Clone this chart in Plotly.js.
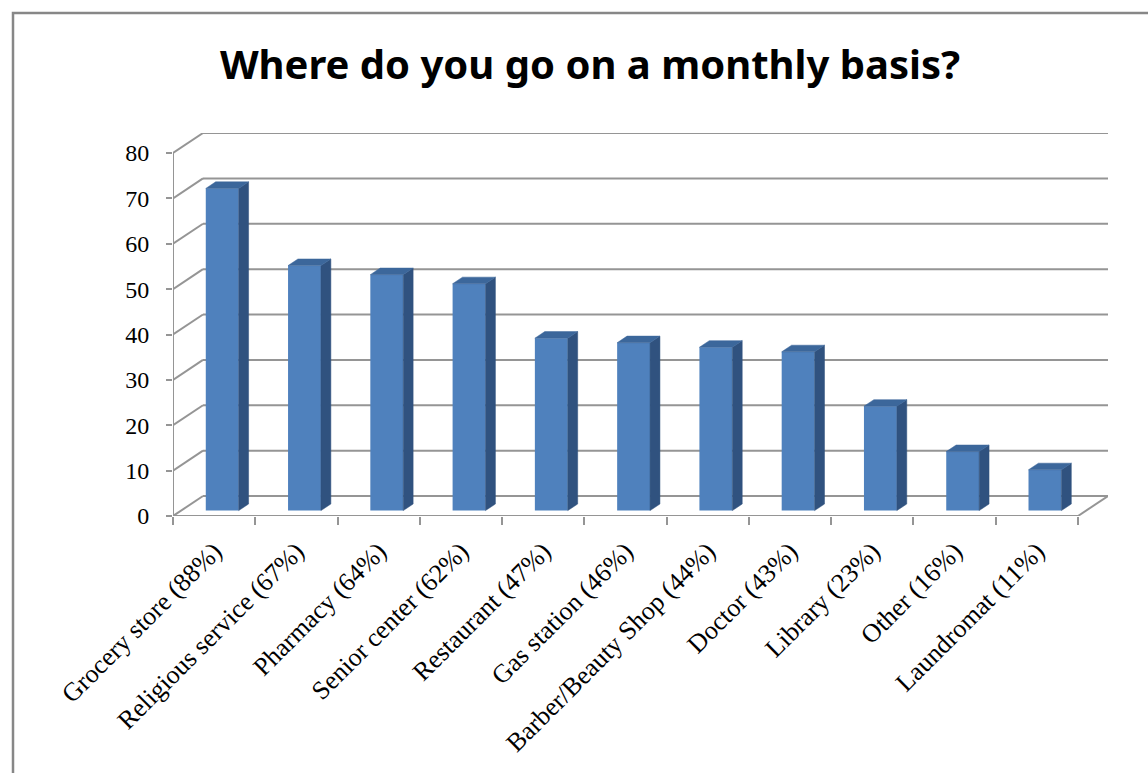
<!DOCTYPE html>
<html>
<head>
<meta charset="utf-8">
<script src="https://cdn.plot.ly/plotly-3.0.1.min.js"></script>
<style>
  html, body { margin: 0; padding: 0; background: #ffffff; }
  #chart { width: 1148px; height: 773px; }
</style>
</head>
<body>
<div id="chart"></div>
<script>
// ---- Data ----
const categories = [
  "Grocery store (88%)", "Religious service (67%)", "Pharmacy (64%)",
  "Senior center (62%)", "Restaurant (47%)", "Gas station (46%)",
  "Barber/Beauty Shop (44%)", "Doctor (43%)", "Library (23%)",
  "Other (16%)", "Laundromat (11%)"
];
const values = [71, 54, 52, 50, 38, 37, 36, 35, 23, 13, 9];
const yTicks = [0, 10, 20, 30, 40, 50, 60, 70, 80];
const chartTitle = "Where do you go on a monthly basis?";

// ---- Geometry (pseudo-3D depth expressed in axis units) ----
const W = 1148, H = 773;
const M = { l: 173, r: 40, t: 133, b: 257 };
const plotW = W - M.l - M.r, plotH = H - M.t - M.b;
const yMax = 80;
const pxPerY = 363 / yMax;           // front plane: 0..80 spans 363 px
const pxPerX = 905 / categories.length;
const DX = 30 / pxPerX;              // wall depth in x units
const DY = 20 / pxPerY;              // wall depth in y units
const yTop = plotH / pxPerY;
const xMin = -0.5, xMax = -0.5 + plotW / pxPerX;
const nCat = categories.length;
const idx = categories.map((_, i) => i);

const barFront = 0.27, barDepth = 0.33, barW = 0.40;
const fdx = barFront * DX, fdy = barFront * DY;
const bdx = barDepth * DX, bdy = barDepth * DY;

const gridColor = "#959595";
const shapes = [];
yTicks.forEach(v => {
  shapes.push({ type: "line", xref: "x", yref: "y", layer: "below",
    x0: xMin + DX, x1: nCat - 0.5 + DX, y0: v + DY, y1: v + DY,
    line: { color: gridColor, width: 2 } });
  shapes.push({ type: "line", xref: "x", yref: "y", layer: "below",
    x0: xMin, x1: xMin + DX, y0: v, y1: v + DY,
    line: { color: gridColor, width: 2 } });
});
// floor front edge and right edge
shapes.push({ type: "line", xref: "x", yref: "y", layer: "below",
  x0: xMin, x1: nCat - 0.5, y0: 0, y1: 0, line: { color: gridColor, width: 2 } });
shapes.push({ type: "line", xref: "x", yref: "y", layer: "below",
  x0: nCat - 0.5, x1: nCat - 0.5 + DX, y0: 0, y1: DY, line: { color: gridColor, width: 2 } });
// front value axis line
shapes.push({ type: "line", xref: "x", yref: "y", layer: "below",
  x0: xMin, x1: xMin, y0: 0, y1: yMax, line: { color: gridColor, width: 2 } });
// chart border
shapes.push({ type: "rect", xref: "paper", yref: "paper", layer: "above",
  x0: (13 - M.l) / plotW, x1: (W + 20 - M.l) / plotW,
  y0: (H - M.b - (H + 20)) / plotH, y1: (H - M.b - 13) / plotH,
  line: { color: "#878787", width: 2.5 }, fillcolor: "rgba(0,0,0,0)" });

// side and top faces built from values
const sideX = [], sideY = [], topX = [], topY = [];
values.forEach((v, i) => {
  const xl = i + fdx - barW / 2, xr = i + fdx + barW / 2;
  const b = fdy, t = fdy + v;
  sideX.push(xr, xr, xr + bdx, xr + bdx, xr, null);
  sideY.push(b, t, t + bdy, b + bdy, b, null);
  topX.push(xl, xr, xr + bdx, xl + bdx, xl, null);
  topY.push(t, t, t + bdy, t + bdy, t, null);
});

const traces = [
  { type: "bar", x: idx, y: values, base: fdy, width: barW, offset: fdx - barW / 2,
    marker: { color: "#4f81bd", line: { width: 0 } }, hoverinfo: "skip" },
  { type: "scatter", mode: "lines", x: sideX, y: sideY, fill: "toself",
    fillcolor: "#30527f", line: { width: 0.5, color: "#30527f" }, hoverinfo: "skip" },
  { type: "scatter", mode: "lines", x: topX, y: topY, fill: "toself",
    fillcolor: "#3c679b", line: { width: 0.5, color: "#3c679b" }, hoverinfo: "skip" }
];

const layout = {
  width: W, height: H,
  margin: M,
  paper_bgcolor: "#ffffff", plot_bgcolor: "#ffffff",
  showlegend: false,
  title: { text: "<b>" + chartTitle + "</b>", xref: "container", yref: "container",
    x: 590 / W, xanchor: "center", y: 1 - 65 / H, yanchor: "middle",
    font: { family: "Noto Sans, Open Sans, sans-serif", size: 40, color: "#000000" } },
  xaxis: {
    type: "linear", range: [xMin, xMax], tickmode: "array",
    tickvals: idx, ticktext: categories, tickangle: -45,
    ticks: "", showgrid: false, zeroline: false, showline: false,
    ticklabelstandoff: 14,
    tickfont: { family: "Liberation Serif, Times New Roman, serif", size: 26, color: "#000000" },
    minor: { tickmode: "array", tickvals: idx.concat([nCat]).map(i => i - 0.5),
      ticks: "outside", ticklen: 8, tickwidth: 2, tickcolor: gridColor, showgrid: false },
    fixedrange: true
  },
  yaxis: {
    range: [0, yTop], tickmode: "array", tickvals: yTicks,
    ticks: "outside", ticklen: 6, tickwidth: 2, tickcolor: gridColor,
    ticklabelstandoff: 12,
    showgrid: false, zeroline: false, showline: false,
    tickfont: { family: "Liberation Serif, Times New Roman, serif", size: 24, color: "#000000" },
    fixedrange: true
  },
  shapes: shapes
};

Plotly.newPlot("chart", traces, layout, { displayModeBar: false, staticPlot: true });
</script>
</body>
</html>
